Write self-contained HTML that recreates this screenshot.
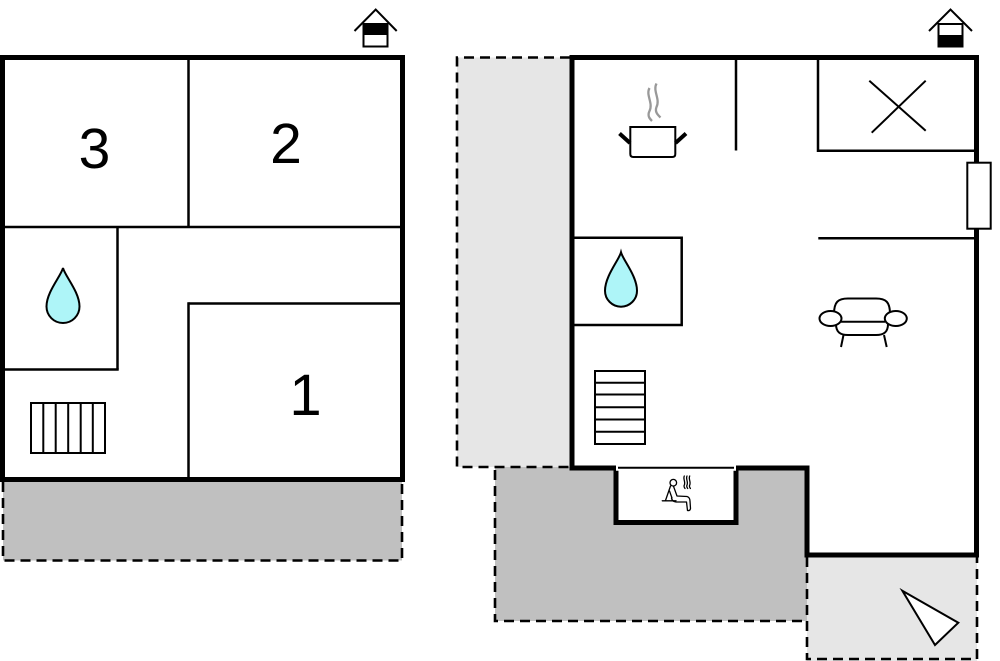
<!DOCTYPE html>
<html>
<head>
<meta charset="utf-8">
<style>
  html,body{margin:0;padding:0;background:#fff;}
  svg{display:block;}
  text{font-family:"Liberation Sans", Arial, sans-serif;}
</style>
</head>
<body>
<svg width="1000" height="661" viewBox="0 0 1000 661" xmlns="http://www.w3.org/2000/svg">
  <rect x="0" y="0" width="1000" height="661" fill="#fff"/>

  <!-- ================= LEFT PLAN ================= -->
  <!-- gray terrace -->
  <rect x="3" y="480" width="399" height="80.5" fill="#c0c0c0"/>
  <path d="M3,482 L3,560.5 L402,560.5 L402,482" fill="none" stroke="#000" stroke-width="2.6" stroke-dasharray="10 6"/>

  <!-- outer walls -->
  <rect x="2.5" y="57.5" width="400" height="422" fill="#fff" stroke="#000" stroke-width="5"/>

  <!-- interior lines -->
  <g stroke="#000" stroke-width="2.5" fill="none">
    <line x1="188.5" y1="60" x2="188.5" y2="227"/>
    <line x1="5" y1="227" x2="400" y2="227"/>
    <line x1="117.5" y1="227" x2="117.5" y2="369.5"/>
    <line x1="5" y1="369.5" x2="118.7" y2="369.5"/>
    <line x1="188.5" y1="303.5" x2="400" y2="303.5"/>
    <line x1="188.5" y1="302.3" x2="188.5" y2="477"/>
  </g>

  <!-- room numbers -->
  <text x="94.5" y="168" font-size="57" text-anchor="middle" fill="#000">3</text>
  <text x="286" y="163" font-size="57" text-anchor="middle" fill="#000">2</text>
  <text x="305.5" y="415" font-size="58" text-anchor="middle" fill="#000">1</text>

  <!-- drop left -->
  <path d="M63,268 C65,276 79.5,292 79.5,306.5 A16.5,16.5 0 0 1 46.5,306.5 C46.5,292 61,276 63,268 Z" fill="#aef5f8" stroke="#000" stroke-width="2"/>

  <!-- stairs left -->
  <g stroke="#000" stroke-width="2" fill="none">
    <rect x="31" y="403" width="74" height="50"/>
    <line x1="43.3" y1="403" x2="43.3" y2="453"/>
    <line x1="55.7" y1="403" x2="55.7" y2="453"/>
    <line x1="68.2" y1="403" x2="68.2" y2="453"/>
    <line x1="80.7" y1="403" x2="80.7" y2="453"/>
    <line x1="92.8" y1="403" x2="92.8" y2="453"/>
  </g>

  <!-- house icon left -->
  <rect x="363.5" y="24" width="24" height="11" fill="#000"/>
  <rect x="363.5" y="24" width="24" height="22.5" fill="none" stroke="#000" stroke-width="2"/>
  <polyline points="354.5,31 375.7,9.5 396.7,31" fill="none" stroke="#000" stroke-width="2"/>

  <!-- ================= RIGHT PLAN ================= -->
  <!-- dark gray terrace -->
  <rect x="495" y="467" width="312" height="154" fill="#c0c0c0"/>
  <!-- light gray left -->
  <rect x="457" y="57.5" width="115" height="409.5" fill="#e6e6e6"/>
  <!-- light gray bottom right -->
  <rect x="807" y="555" width="170" height="106" fill="#e6e6e6"/>

  <!-- dashed outlines -->
  <g fill="none" stroke="#000" stroke-width="2.6" stroke-dasharray="10 6">
    <path d="M570,57.5 L457,57.5 L457,467 L572,467"/>
    <path d="M495,470 L495,621 L807,621"/>
    <path d="M807,557 L807,659 L977,659 L977,557"/>
  </g>

  <!-- building -->
  <path d="M572,57.5 L976.5,57.5 L976.5,555 L807,555 L807,468 L736,468 L736,522.5 L616,522.5 L616,468 L572,468 Z" fill="#fff" stroke="#000" stroke-width="5" stroke-linejoin="miter"/>
  <line x1="616" y1="468" x2="736" y2="468" stroke="#fff" stroke-width="5.5"/>
  <line x1="618" y1="467.7" x2="734" y2="467.7" stroke="#000" stroke-width="2"/>

  <!-- interior lines -->
  <g stroke="#000" stroke-width="2.5" fill="none">
    <line x1="736" y1="60" x2="736" y2="150.5"/>
    <path d="M818,60 L818,150.7 L974,150.7"/>
    <line x1="818.3" y1="238.3" x2="974" y2="238.3"/>
    <path d="M574,237.7 L681.7,237.7 L681.7,325 L574,325"/>
  </g>

  <!-- X -->
  <g stroke="#000" stroke-width="2">
    <line x1="869.3" y1="80.7" x2="925.7" y2="130.7"/>
    <line x1="925.7" y1="80.7" x2="871.7" y2="132.7"/>
  </g>

  <!-- window -->
  <rect x="967.3" y="162.7" width="23.4" height="66" fill="#fff" stroke="#000" stroke-width="2"/>

  <!-- drop right -->
  <path d="M621,252.3 C623,260 637,276 637,290.7 A16,16 0 0 1 605,290.7 C605,276 619,260 621,252.3 Z" fill="#aef5f8" stroke="#000" stroke-width="2"/>

  <!-- pot -->
  <path d="M649.5,88 C645.5,95 653.5,103 649.5,111 C647,116 650,119 652,121" fill="none" stroke="#999" stroke-width="2.3"/>
  <path d="M656.5,83.5 C652.5,91 660.5,99 656.5,107 C654.5,112 658,115 660.5,117.5" fill="none" stroke="#999" stroke-width="2.3"/>
  <path d="M630.3,127 L675.3,127 L675.3,154 Q675.3,157 672.3,157 L633.3,157 Q630.3,157 630.3,154 Z" fill="#fff" stroke="#000" stroke-width="2"/>
  <line x1="619.5" y1="133.5" x2="630" y2="143" stroke="#000" stroke-width="4"/>
  <line x1="675.5" y1="143" x2="686" y2="133.5" stroke="#000" stroke-width="4"/>

  <!-- armchair -->
  <g stroke="#000" stroke-width="2" fill="#fff">
    <path d="M834,314 C834,302 838,298.5 848,298.5 L876,298.5 C886,298.5 890,302 890,314"/>
    <path d="M836,324 C836,332 840,335 848,335 L876,335 C884,335 888,332 888,324"/>
    <line x1="841" y1="321.7" x2="885" y2="321.7"/>
    <ellipse cx="830.5" cy="318.5" rx="11" ry="7.5"/>
    <ellipse cx="895.8" cy="318.5" rx="11" ry="7.5"/>
    <line x1="843.5" y1="335" x2="841" y2="347"/>
    <line x1="884" y1="335" x2="886.7" y2="347"/>
  </g>

  <!-- stairs right -->
  <g stroke="#000" stroke-width="2" fill="none">
    <rect x="595" y="371" width="50" height="73"/>
    <line x1="595" y1="382.7" x2="645" y2="382.7"/>
    <line x1="595" y1="394.5" x2="645" y2="394.5"/>
    <line x1="595" y1="407.3" x2="645" y2="407.3"/>
    <line x1="595" y1="419.5" x2="645" y2="419.5"/>
    <line x1="595" y1="431.7" x2="645" y2="431.7"/>
  </g>

  <!-- sauna icon -->
  <g stroke="#000" stroke-width="1.3" fill="none" stroke-linecap="round" stroke-linejoin="round">
    <circle cx="673.3" cy="482.7" r="3.3"/>
    <line x1="662.3" y1="500.8" x2="676" y2="500.8"/>
    <path d="M670.5,486 L665.5,500.5"/>
    <path d="M673.5,486.3 L677,496 L687,496.5 Q690,497.5 690,501 L690.5,508.5 Q690,511 687.5,510.5 L686.5,502 L676,502 Q672,501.5 671.5,498"/>
    <path d="M669.5,491 L672,498"/>
    <path d="M684.3,476 C682.8,479 685.8,482 684.3,485 C683.5,486.5 684.5,487.5 685,488.5"/>
    <path d="M687,476 C685.5,479 688.5,482 687,485 C686.2,486.5 687.2,487.5 687.7,488.5"/>
    <path d="M689.7,476 C688.2,479 691.2,482 689.7,485 C688.9,486.5 689.9,487.5 690.4,488.5"/>
  </g>

  <!-- compass triangle -->
  <polygon points="902.3,590.7 958.3,622.7 935,645" fill="#fff" stroke="#000" stroke-width="2"/>

  <!-- house icon right -->
  <rect x="938.5" y="35" width="24" height="11.5" fill="#000"/>
  <rect x="938.5" y="24" width="24" height="22.5" fill="none" stroke="#000" stroke-width="2"/>
  <polyline points="929,31 950.5,9.5 972,31" fill="none" stroke="#000" stroke-width="2"/>
</svg>
</body>
</html>
